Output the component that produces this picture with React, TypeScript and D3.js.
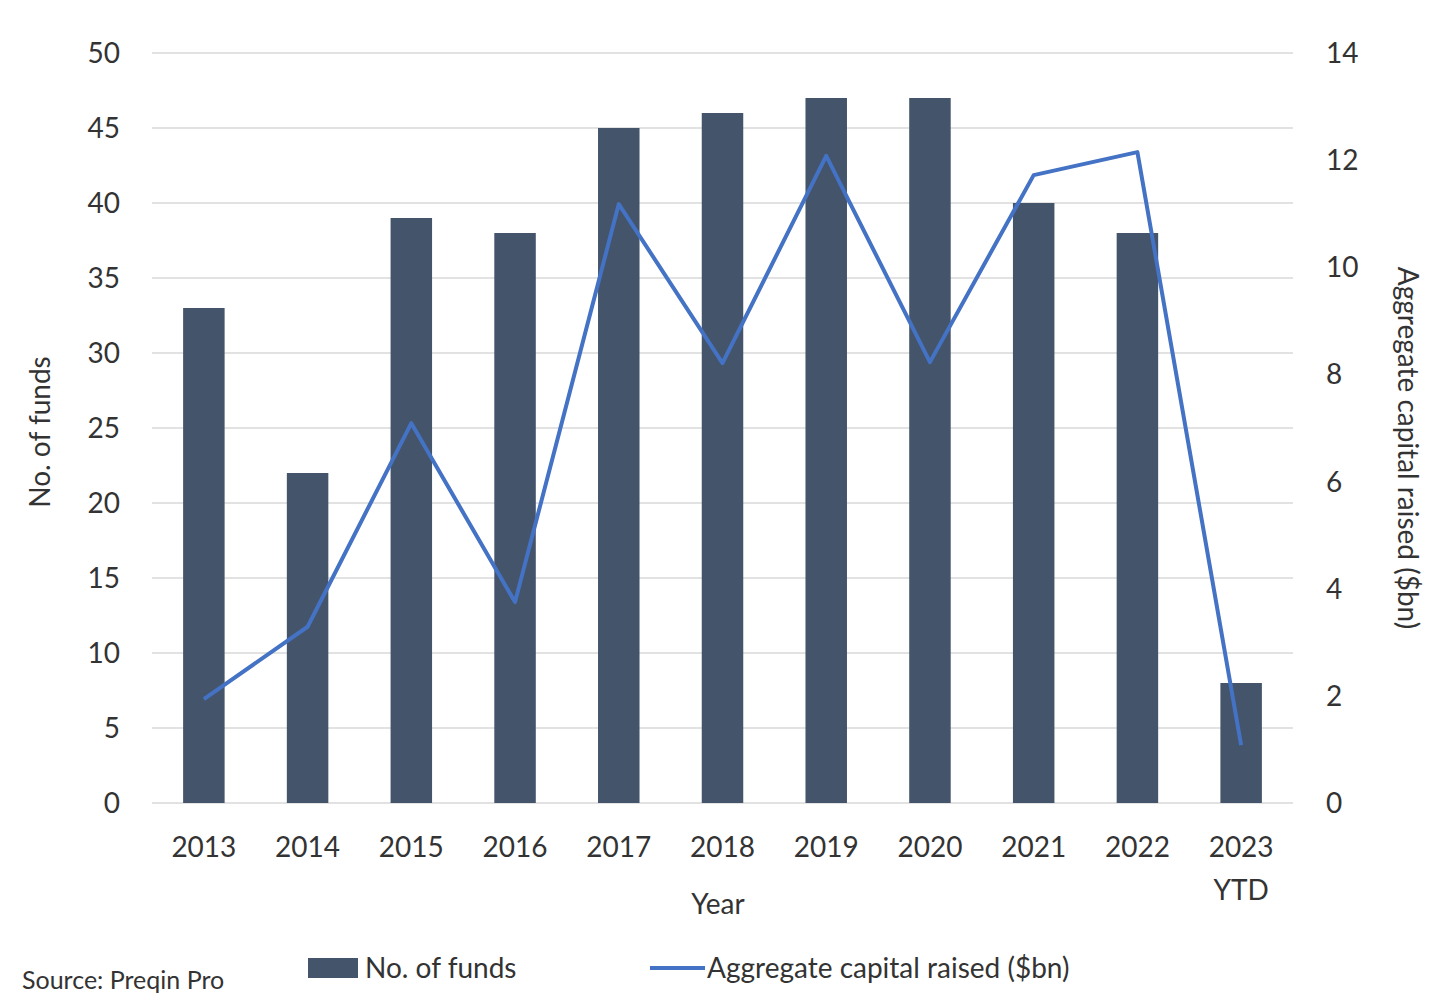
import { useEffect, useRef } from 'react';
import * as d3 from 'd3';

const years = ['2013', '2014', '2015', '2016', '2017', '2018', '2019', '2020', '2021', '2022', '2023'];
const yearLabels = ['2013', '2014', '2015', '2016', '2017', '2018', '2019', '2020', '2021', '2022', '2023\nYTD'];
const funds = [33, 22, 39, 38, 45, 46, 47, 47, 40, 38, 8];
const capital = [1.94, 3.29, 7.09, 3.75, 11.18, 8.21, 12.08, 8.23, 11.72, 12.15, 1.08];

const App = () => {
  const svgRef = useRef<SVGSVGElement>(null);

  useEffect(() => {
    if (!svgRef.current) return;
    const svg = d3.select(svgRef.current);
    svg.selectAll('*').remove();
    const font = 'Lato, "Noto Sans", sans-serif';
    const left = 152, right = 1293, top = 53, bottom = 803;

    const x = d3.scaleBand<string>().domain(years).range([left, right]).paddingInner(0.6).paddingOuter(0.3);
    const yL = d3.scaleLinear().domain([0, 50]).range([bottom, top]);
    const yR = d3.scaleLinear().domain([0, 14]).range([bottom, top]);

    svg.append('g').selectAll('line').data(yL.ticks(10)).enter().append('line')
      .attr('x1', left).attr('x2', right)
      .attr('y1', d => yL(d)).attr('y2', d => yL(d))
      .attr('stroke', '#d9d9d9').attr('stroke-width', 1.5);

    svg.append('g').selectAll('rect').data(funds).enter().append('rect')
      .attr('x', (_, i) => x(years[i])!).attr('width', x.bandwidth())
      .attr('y', d => yL(d)).attr('height', d => bottom - yL(d))
      .attr('fill', '#44546a');

    const line = d3.line<number>()
      .x((_, i) => x(years[i])! + x.bandwidth() / 2)
      .y(d => yR(d));
    svg.append('path').datum(capital).attr('d', line)
      .attr('fill', 'none').attr('stroke', '#4472c4').attr('stroke-width', 4)
      .attr('stroke-linejoin', 'round');

    const txt = (s: string, tx: number, ty: number, anchor = 'middle', size = 28) =>
      svg.append('text').text(s).attr('x', tx).attr('y', ty)
        .attr('text-anchor', anchor).attr('font-family', font)
        .attr('font-size', size).attr('fill', '#333');

    yL.ticks(10).forEach(d => txt(String(d), 120, yL(d) + 10, 'end'));
    yR.ticks(7).forEach(d => txt(String(d), 1326, yR(d) + 10, 'start'));
    yearLabels.forEach((l, i) => {
      const cx = x(years[i])! + x.bandwidth() / 2;
      l.split('\n').forEach((p, j) => txt(p, cx, 857 + j * 43));
    });
    txt('Year', 718, 914);
    txt('No. of funds', 0, 0).attr('transform', 'translate(50,432) rotate(-90)');
    txt('Aggregate capital raised ($bn)', 0, 0).attr('transform', 'translate(1398,448) rotate(90)');

    txt('Source: Preqin Pro', 22, 989, 'start', 25);
    svg.append('rect').attr('x', 308).attr('y', 958).attr('width', 50).attr('height', 20).attr('fill', '#44546a');
    txt('No. of funds', 365, 978, 'start');
    svg.append('line').attr('x1', 650).attr('x2', 705).attr('y1', 968).attr('y2', 968)
      .attr('stroke', '#4472c4').attr('stroke-width', 4);
    txt('Aggregate capital raised ($bn)', 707, 978, 'start');
  }, []);

  return <svg ref={svgRef} width={1440} height={1008} style={{ position: 'absolute', left: 0, top: 0, background: '#fff' }} />;
};

export default App;
